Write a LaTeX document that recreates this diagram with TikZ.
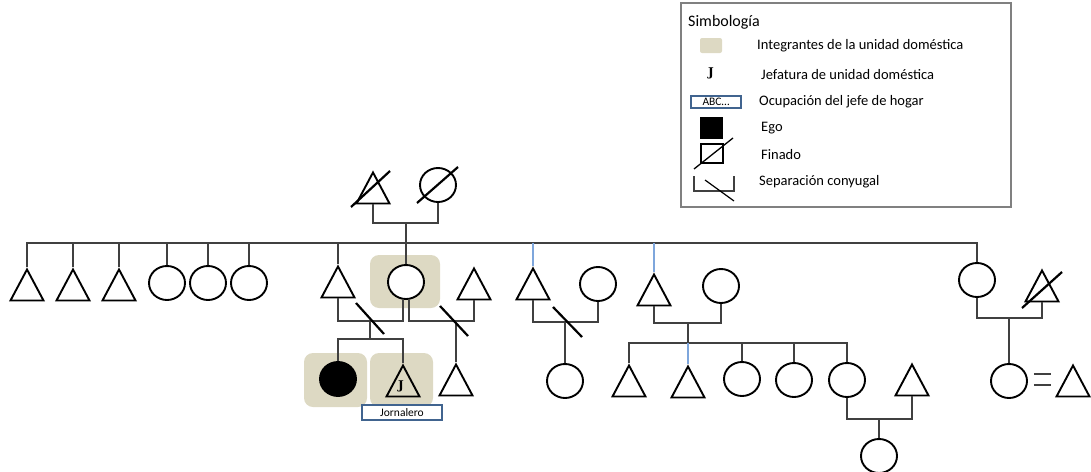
\documentclass[tikz,border=0pt]{standalone}
\usepackage{fontspec}
\setmainfont{Carlito}
\newfontfamily\jfont{DejaVu Serif}
\usepackage{xcolor}
\usetikzlibrary{shapes.geometric}
\definecolor{beige}{HTML}{DDD9C3}
\definecolor{azul}{HTML}{7EA6DC}
\definecolor{marco}{HTML}{41648F}
\definecolor{linea}{HTML}{404040}
\newcommand{\jota}{{\jfont\bfseries J}}

\begin{document}
\begin{tikzpicture}[x=1pt,y=-1pt,
	hombre/.style={draw,line width=1.9pt,isosceles triangle,isosceles triangle stretches,shape border rotate=90,minimum width=33pt,minimum height=31pt,inner sep=0pt,anchor=apex},
	mujer/.style={draw,line width=1.9pt,ellipse,minimum width=36pt,minimum height=34pt,inner sep=0pt},
	hogar/.style={fill=beige,rounded corners=9pt},
	tachado/.style={line width=2.2pt},
	oficio/.style={draw=marco,line width=1.4pt,fill=white,inner sep=0pt},
	leyenda/.style={anchor=west,inner sep=0pt,font=\fontsize{14.5}{16}\selectfont}]
\useasboundingbox (0,0) rectangle (1091,471);

%households
\fill[hogar] (370,255) rectangle (440,308);
\fill[hogar] (304,353) rectangle (367,407);
\fill[hogar] (370,353) rectangle (433,407);

%first generation
\node[hombre] (abuelo) at (373,170){};
\node[mujer] (abuela) at (438,185){};
%second generation
\node[hombre] (s1) at (27,267){};
\node[hombre] (s2) at (73,267){};
\node[hombre] (s3) at (119,267){};
\node[mujer] (s4) at (167,283){};
\node[mujer] (s5) at (208,283){};
\node[mujer] (s6) at (249,283){};
\node[hombre] (s7) at (338,264){};
\node[mujer,fill=white] (madre) at (406,282){};
\node[hombre] (esposo2) at (474,266){};
\node[hombre] (s9) at (533,266){};
\node[mujer] (esposa3) at (598,284){};
\node[hombre] (s10) at (654,272){};
\node[mujer] (esposa4) at (721,286){};
\node[mujer] (s11) at (977,280){};
\node[hombre] (difunto) at (1042,268){};
%third generation
\node[mujer,fill=black] (ego) at (338,379){};
\node[hombre] (jefe) at (403,363){};
\node[inner sep=0pt,font=\fontsize{12}{12}\selectfont] (j) at (401,386){\jota};
\node[oficio,minimum width=80pt,minimum height=15pt,font=\fontsize{11.5}{11.5}\selectfont] (jornal) at (402,412.5){Jornalero};
\node[hombre] (hijo2) at (456,362){};
\node[mujer] (prima) at (565,381){};
\node[hombre] (c1) at (629,363){};
\node[hombre] (c2) at (688,364){};
\node[mujer] (c3) at (742,379){};
\node[mujer] (c4) at (794,380){};
\node[mujer] (c5) at (847,380){};
\node[hombre] (esposo5) at (912,362){};
\node[mujer] (sobrina) at (1009,381){};
\node[hombre] (esposo6) at (1073,363){};
%fourth generation
\node[mujer] (nieta) at (879,456){};

\coordinate (u0) at (406,223);
\coordinate (hermanos) at (406,243);
\coordinate (u1) at (370,321);
\coordinate (h1) at (370,339);
\coordinate (u2) at (456,321);
\coordinate (u3) at (565,322);
\coordinate (u4) at (688,323);
\coordinate (h4) at (688,343);
\coordinate (u5) at (879,419);
\coordinate (u6) at (1009,318);

\begin{scope}[linea,line width=1.4pt]
%unions
\draw (abuelo.lower side) |- (u0) -| (abuela.south);
\draw (s7.lower side) |- (u1) -| (madre.260);
\draw (madre.280) |- (u2) -| (esposo2.lower side);
\draw (s9.lower side) |- (u3) -| (esposa3.south);
\draw (s10.lower side) |- (u4) -| (esposa4.south);
\draw (c5.south) |- (u5) -| (esposo5.lower side);
\draw (s11.south) |- (u6) -| (difunto.lower side);
%siblings
\draw (u0) -- (madre.north);
\draw (s1.apex) |- (hermanos) -| (s11.north);
\foreach \n in {s2,s3,s7} \draw (\n.apex) -- (\n.apex |- hermanos);
\foreach \n in {s4,s5,s6} \draw (\n.north) -- (\n.north |- hermanos);
\draw[azul] (s9.apex) -- (s9.apex |- hermanos);
\draw[azul] (s10.apex) -- (s10.apex |- hermanos);
%children
\draw (u1) -- (h1);
\draw (ego.north) |- (h1) -| (jefe.apex);
\draw (u2) -- (hijo2.apex);
\draw (u3) -- (prima.north);
\draw (u4) -- (h4);
\draw (c1.apex) |- (h4) -| (c5.north);
\draw[azul] (h4) -- (c2.apex);
\foreach \n in {c3,c4} \draw (\n.north) -- (\n.north |- h4);
\draw (u5) -- (nieta.north);
\draw (u6) -- (sobrina.north);
%marriage
\draw ([shift={(6,-7)}]sobrina.east) -- ++(17,0);
\draw ([shift={(6,4)}]sobrina.east) -- ++(17,0);
\end{scope}

%deaths and separations
\draw[tachado] ([shift={(-22,37)}]abuelo.apex) -- ([shift={(17,1)}]abuelo.apex);
\draw[tachado] ([shift={(-21,18)}]abuela.center) -- ([shift={(20,-18)}]abuela.center);
\draw[tachado] ([shift={(-20,40)}]difunto.apex) -- ([shift={(20,4)}]difunto.apex);
\draw[tachado] ([shift={(-14,-18)}]u1) -- ([shift={(14,13)}]u1);
\draw[tachado] ([shift={(-16,-15)}]u2) -- ([shift={(12,15)}]u2);
\draw[tachado] ([shift={(-12,-15)}]u3) -- ([shift={(17,15)}]u3);

%legend
\draw[gray,line width=1.2pt] (681,3) rectangle (1011,207);
\node[anchor=west,inner sep=0pt,font=\fontsize{16}{17}\selectfont] (titulo) at (688,22){Simbología};
\fill[beige,rounded corners=2pt] (700,38) rectangle (722,53);
\node[leyenda] (t1) at (757,46){Integrantes de la unidad doméstica};
\node[inner sep=0pt,font=\fontsize{12}{12}\selectfont] (jl) at (711,73){\jota};
\node[leyenda] (t2) at (761,75){Jefatura de unidad doméstica};
\node[oficio,minimum width=50pt,minimum height=12pt,font=\fontsize{11.5}{11.5}\selectfont] (abc) at (716,102){ABC…};
\node[leyenda] (t3) at (759,102){Ocupación del jefe de hogar};
\fill (700,117) rectangle (723,139);
\node[leyenda] (t4) at (761,128){Ego};
\draw[line width=1.9pt] (701,144) rectangle (723,163);
\draw[line width=1.3pt] (694,169) -- (733,138);
\node[leyenda] (t5) at (761,155){Finado};
\draw[linea,line width=1.2pt] (694,176) |- (734,191) -- (734,176);
\draw[line width=1.2pt] (705,180) -- (734,201);
\node[leyenda] (t6) at (759,182){Separación conyugal};
\end{tikzpicture}
\end{document}
